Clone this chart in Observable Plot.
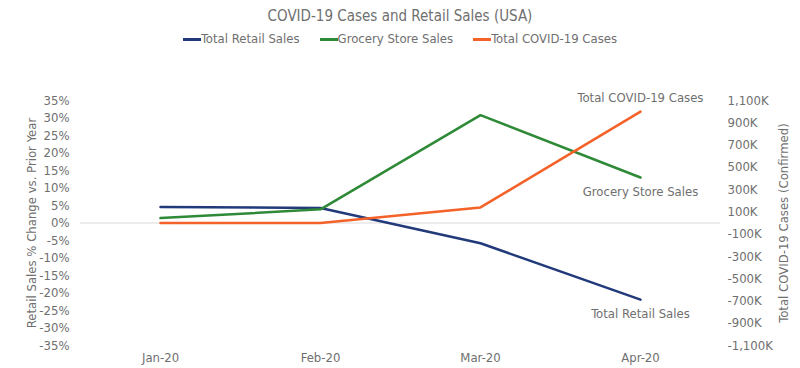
<!DOCTYPE html>
<html>
<head>
<meta charset="utf-8">
<script src="https://cdn.jsdelivr.net/npm/d3@7"></script>
<script src="https://cdn.jsdelivr.net/npm/@observablehq/plot@0.6"></script>
<style>
  body { margin: 0; background: #fff; font-family: "DejaVu Sans Condensed", "DejaVu Sans", sans-serif; color: #6f6f6f; }
  #wrap { width: 800px; height: 368px; position: relative; }
  #title { position: absolute; top: 6px; left: 0; width: 800px; text-align: center; font-size: 15px; line-height: 20px; }
  #legend { position: absolute; top: 31px; left: 0; width: 800px; display: flex; justify-content: center; font-size: 13px; line-height: 16px; gap: 20px; }
  .item { display: flex; align-items: center; }
  .sw { width: 18px; height: 3px; display: inline-block; margin-right: 0px; }
  #chart { position: absolute; top: 60px; left: 0; }
</style>
</head>
<body>
<div id="wrap">
  <div id="title">COVID-19 Cases and Retail Sales (USA)</div>
  <div id="legend"></div>
  <div id="chart"></div>
</div>
<script>
const months = ["Jan-20", "Feb-20", "Mar-20", "Apr-20"];
const retailSales = [4.6, 4.3, -5.8, -21.9];      // % change vs prior year
const grocerySales = [1.4, 3.9, 30.8, 13.0];      // % change vs prior year
const covidCases = [0, 0, 140, 1000];             // thousands, confirmed
const seriesNames = ["Total Retail Sales", "Grocery Store Sales", "Total COVID-19 Cases"];
const seriesColors = ["#223a7a", "#2f8a38", "#f4622a"];
const labelOffsets = [14, 14, -14];
const leftTicks = d3.range(-35, 36, 5);
const rightTicks = d3.range(-1100, 1101, 200);

const leftMax = 35, rightMax = 1100;
const toLeft = v => v * leftMax / rightMax;

const rows = [];
months.forEach((m, i) => {
  rows.push({month: m, series: seriesNames[0], value: retailSales[i]});
  rows.push({month: m, series: seriesNames[1], value: grocerySales[i]});
  rows.push({month: m, series: seriesNames[2], value: toLeft(covidCases[i])});
});
const lastMonth = months[months.length - 1];

// legend
const leg = document.getElementById("legend");
seriesNames.forEach((s, i) => {
  const it = document.createElement("div");
  it.className = "item";
  it.innerHTML = `<span class="sw" style="background:${seriesColors[i]}"></span><span>${s}</span>`;
  leg.appendChild(it);
});

const fmtK = v => (v < 0 ? "-" : "") + d3.format(",")(Math.abs(v)) + "K";
const font = "DejaVu Sans Condensed, DejaVu Sans, sans-serif";
const grey = "#6f6f6f";

const chart = Plot.plot({
  width: 800,
  height: 308,
  marginLeft: 80,
  marginRight: 80,
  marginTop: 40,
  marginBottom: 23,
  style: {fontFamily: font, fontSize: "13px", color: grey, background: "#fff", overflow: "visible"},
  x: {type: "point", domain: months, padding: 0.5},
  y: {domain: [-35, 35]},
  color: {domain: seriesNames, range: seriesColors},
  marks: [
    Plot.ruleY([0], {stroke: "#d9d9d9", strokeWidth: 1}),
    Plot.axisY(leftTicks, {anchor: "left", tickSize: 0, tickPadding: 11, tickFormat: d => d + "%", label: null, fill: grey, fontSize: 13}),
    Plot.axisY(rightTicks.map(toLeft), {anchor: "right", tickSize: 0, tickPadding: 7, tickFormat: d => fmtK(Math.round(d * rightMax / leftMax)), label: null, fill: grey, fontSize: 13}),
    Plot.axisX({anchor: "bottom", tickSize: 0, tickPadding: 7, label: null, fill: grey, fontSize: 13}),
    Plot.lineY(rows, {x: "month", y: "value", z: "series", stroke: "series", strokeWidth: 2.5}),
    ...seriesNames.map((s, i) => Plot.text(rows.filter(d => d.series === s && d.month === lastMonth),
      {x: "month", y: "value", text: "series", fill: grey, fontSize: 13, dy: labelOffsets[i]})),
    Plot.text(["Retail Sales % Change vs. Prior Year"], {frameAnchor: "left", textAnchor: "middle", dx: -49, rotate: -90, fill: grey, fontSize: 13}),
    Plot.text(["Total COVID-19 Cases (Confirmed)"], {frameAnchor: "right", textAnchor: "middle", dx: 63, rotate: -90, fill: grey, fontSize: 13})
  ]
});
document.getElementById("chart").appendChild(chart);
</script>
</body>
</html>
